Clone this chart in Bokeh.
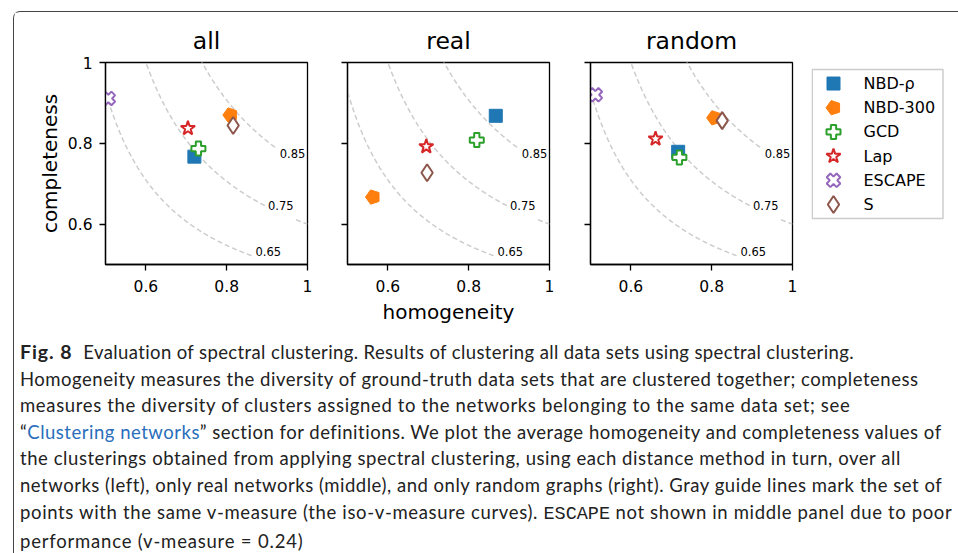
import numpy as np
from bokeh.plotting import figure
from bokeh.models import Range1d, FixedTicker, Div
from bokeh.layouts import row, column
from bokeh.embed import file_html
from bokeh.resources import INLINE
from bokeh.core.properties import value

# ---------------- data ----------------
methods = ["NBD-ρ", "NBD-300", "GCD", "Lap", "ESCAPE", "S"]
panel_titles = ["all", "real", "random"]

all_h = [0.720, 0.809, 0.730, 0.704, 0.507, 0.816]
all_c = [0.767, 0.870, 0.787, 0.837, 0.911, 0.844]
real_h = [0.867, 0.563, 0.820, 0.695, None, 0.697]
real_c = [0.868, 0.667, 0.808, 0.792, None, 0.727]
random_h = [0.717, 0.806, 0.720, 0.661, 0.512, 0.826]
random_c = [0.779, 0.863, 0.765, 0.811, 0.920, 0.856]

vmeasure_levels = [0.65, 0.75, 0.85]
level_labels = ["0.65", "0.75", "0.85"]
label_h = [0.903, 0.934, 0.963]
label_c = [0.531, 0.645, 0.774]

x_ticks = [0.6, 0.8, 1.0]
x_tick_labels = ["0.6", "0.8", "1"]
y_ticks = [0.6, 0.8, 1.0]
y_tick_labels = ["0.6", "0.8", "1"]

x_label = "homogeneity"
y_label = "completeness"

colors = ["#1f77b4", "#ff7f0e", "#2ca02c", "#d62728", "#9467bd", "#8c564b"]

# ---------------- styles ----------------
FONT = "DejaVu Sans"
FRAME = 202
TOP, BOTTOM = 50, 66
marker_styles = [
    dict(marker="square", size=13, fill_color=colors[0], line_color=colors[0], line_width=1, angle=0.0),
    None,  # filled pentagon, drawn as an ngon
    dict(marker="plus", size=14, fill_color="white", line_color=colors[2], line_width=2, angle=0.0),
    dict(marker="star", size=15, fill_color="white", line_color=colors[3], line_width=2, angle=0.0),
    dict(marker="plus", size=14, fill_color="white", line_color=colors[4], line_width=2, angle=np.pi / 4),
    dict(marker="diamond", size=17, fill_color="white", line_color=colors[5], line_width=2, angle=0.0),
]


def draw_marker(p, i, x, y):
    s = marker_styles[i]
    if s is None:
        if hasattr(p, "ngon"):
            return p.ngon(x=[x], y=[y], radius=7.5, radius_units="screen", n=5,
                          angle=np.pi / 2, fill_color=colors[i], line_color=colors[i])
        ang = np.pi / 2 + np.arange(5) * 2 * np.pi / 5
        rr = 7.5 / 404
        return p.patch(x + rr * np.cos(ang), y + rr * np.sin(ang),
                       fill_color=colors[i], line_color=colors[i])
    return p.scatter(x=[x], y=[y], marker=s["marker"], size=s["size"],
                     fill_color=s["fill_color"], line_color=s["line_color"],
                     line_width=s["line_width"], angle=s["angle"])


def make_panel(title, hs, cs, left, right, show_y_labels, show_x_label):
    p = figure(title=title, frame_width=FRAME, frame_height=FRAME,
               x_range=Range1d(0.5, 1.0), y_range=Range1d(0.5, 1.0),
               output_backend="svg", toolbar_location=None,
               min_border_left=left, min_border_right=right,
               min_border_top=TOP, min_border_bottom=BOTTOM)
    p.background_fill_color = "white"
    p.border_fill_color = "white"
    p.grid.visible = False
    p.outline_line_color = "black"
    p.outline_line_width = 1.3
    p.title.text_font = FONT
    p.title.text_font_size = "23.5px"
    p.title.text_font_style = "normal"
    p.title.text_color = "black"
    p.title.align = "center"
    p.title.standoff = 15

    p.xaxis.ticker = FixedTicker(ticks=x_ticks)
    p.yaxis.ticker = FixedTicker(ticks=y_ticks)
    p.xaxis.major_label_overrides = {t: l for t, l in zip(x_ticks, x_tick_labels)}
    if show_y_labels:
        p.yaxis.major_label_overrides = {t: l for t, l in zip(y_ticks, y_tick_labels)}
        p.yaxis.axis_label = y_label
    else:
        p.yaxis.major_label_overrides = {t: "" for t in y_ticks}
    if show_x_label:
        p.xaxis.axis_label = x_label
    for ax in p.axis:
        ax.major_tick_out = 6
        ax.major_tick_in = 0
        ax.minor_tick_out = 0
        ax.minor_tick_in = 0
        ax.axis_line_width = 1.3
        ax.major_tick_line_width = 1.3
        ax.major_label_text_font = FONT
        ax.major_label_text_font_size = "15.5px"
        ax.major_label_text_color = "black"
        ax.axis_label_text_font = FONT
        ax.axis_label_text_font_size = "20px"
        ax.axis_label_text_font_style = "normal"
        ax.axis_label_text_color = "black"
    p.xaxis.major_label_standoff = 9
    p.yaxis.major_label_standoff = 7
    p.xaxis.axis_label_standoff = 5
    p.yaxis.axis_label_standoff = 3

    # iso-v-measure guide curves, broken where the inline labels sit
    for V, lh in zip(vmeasure_levels, label_h):
        h = np.linspace(V / (2 - V) - 0.005, 1.0, 500)
        c = V * h / (2 * h - V)
        c[np.abs(h - lh) < 0.037] = np.nan
        p.line(h, c, line_color="#cccccc", line_dash="5 3", line_width=1.5)
    p.text(x=label_h, y=label_c, text=level_labels, text_font=value(FONT),
           text_font_size="11.5px", text_align="center", text_baseline="middle",
           text_color="black")

    for i in range(len(methods)):
        if hs[i] is None:
            continue
        draw_marker(p, i, hs[i], cs[i])
    return p


p1 = make_panel(panel_titles[0], all_h, all_c, 91, 20, True, False)
p2 = make_panel(panel_titles[1], real_h, real_c, 20, 21, False, True)
p3 = make_panel(panel_titles[2], random_h, random_c, 20, 19, False, False)

# ---------------- legend panel (frame aligned with the plots) ----------------
n = len(methods)
ROW = 24.2                      # pixels per legend entry
top_units = 0.58 + 7 / ROW      # box starts 7 px below the frame top
leg = figure(frame_width=133, frame_height=FRAME, x_range=Range1d(0, 133),
             y_range=Range1d(-top_units + FRAME / ROW, -top_units),
             x_axis_type=None, y_axis_type=None,
             output_backend="svg", toolbar_location=None,
             min_border_left=0, min_border_right=0,
             min_border_top=TOP, min_border_bottom=BOTTOM)
leg.grid.visible = False
leg.background_fill_color = "white"
leg.border_fill_color = "white"
leg.outline_line_color = None
leg.quad(left=[0.75], right=[131.5], top=[-0.58], bottom=[n - 1 + 0.58],
         fill_color="white", line_color="#cccccc", line_width=1.5)
for i in range(n):
    draw_marker(leg, i, 22, i)
leg.text(x=[52] * n, y=list(range(n)), text=methods, text_font=value(FONT),
         text_font_size="16px", text_align="left", text_baseline="middle", text_color="black")

# ---------------- caption ----------------
caption_lines = [
    (0.38, '<b style="font-size:19.5px; letter-spacing:0.9px;">Fig.&nbsp;8</b>'
           '<span style="margin-left:11px;">Evaluation of spectral clustering. Results of clustering all data sets using spectral clustering.</span>'),
    (0.52, 'Homogeneity measures the diversity of ground-truth data sets that are clustered together; completeness'),
    (0.65, 'measures the diversity of clusters assigned to the networks belonging to the same data set; see'),
    (0.51, '&ldquo;<span style="color:#2a6ebb;">Clustering networks</span>&rdquo; section for definitions. '
           'We plot the average homogeneity and completeness values of'),
    (0.56, 'the clusterings obtained from applying spectral clustering, using each distance method in turn, over all'),
    (0.52, 'networks (left), only real networks (middle), and only random graphs (right). Gray guide lines mark the set of'),
    (0.65, 'points with the same v-measure (the iso-v-measure curves). '
           '<span style="font-family:\'Liberation Mono\', monospace; letter-spacing:0;">ESCAPE</span>'
           ' not shown in middle panel due to poor'),
    (0.8, 'performance (v-measure&nbsp;=&nbsp;0.24)'),
]
caption_html = (
    '<div style="font-family:Lato, sans-serif; font-size:18.5px; line-height:26.6px; color:#222;'
    ' padding:9px 0 0 6px; white-space:nowrap;">'
    + '<br>'.join('<span style="letter-spacing:%.2fpx;">%s</span>' % (ls, t) for ls, t in caption_lines)
    + '</div>'
)
caption = Div(text=caption_html, width=944, height=223, margin=(0, 0, 0, 0))

layout = column(row(p1, p2, p3, leg), caption, margin=(11, 0, 0, 13),
                styles={"border-top": "1.3px solid #444", "border-left": "1.3px solid #444",
                        "border-top-left-radius": "7px"})

open("out.html", "w").write(file_html(layout, INLINE))
